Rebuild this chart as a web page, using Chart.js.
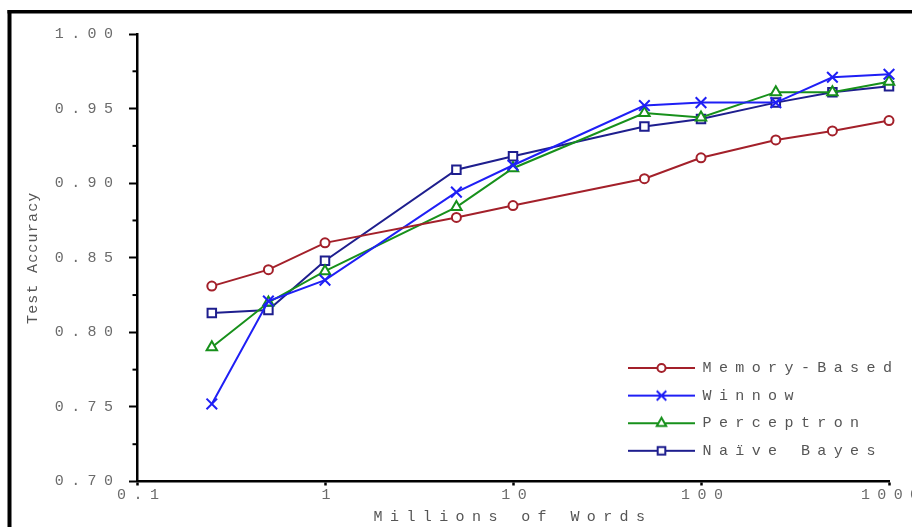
<!DOCTYPE html>
<html><head><meta charset="utf-8">
<script src="https://cdn.jsdelivr.net/npm/chart.js@4/dist/chart.umd.min.js"></script>
<style>html,body{margin:0;padding:0;background:#fff;overflow:hidden;width:912px;height:527px}canvas{display:block}</style>
</head><body><canvas id="c" width="960" height="560" style="width:960px;height:560px"></canvas>
<script>
// ---- data ----
const millionsOfWords = [0.25, 0.5, 1, 5, 10, 50, 100, 250, 500, 1000];
const memoryBased = [0.831, 0.842, 0.860, 0.877, 0.885, 0.903, 0.917, 0.929, 0.935, 0.942];
const winnow      = [0.752, 0.821, 0.835, 0.894, 0.912, 0.952, 0.954, 0.954, 0.971, 0.973];
const perceptron  = [0.790, 0.820, 0.841, 0.884, 0.910, 0.947, 0.944, 0.961, 0.961, 0.968];
const naiveBayes  = [0.813, 0.815, 0.848, 0.909, 0.918, 0.938, 0.943, 0.954, 0.961, 0.965];
const seriesNames = ['Memory-Based', 'Winnow', 'Perceptron', 'Naïve Bayes'];
const xTickValues = [0.1, 1, 10, 100, 1000];
const xTickLabels = ['0.1', '1', '10', '100', '1000'];
const yTickValues = [0.70, 0.75, 0.80, 0.85, 0.90, 0.95, 1.00];
const yTickLabels = ['0.70', '0.75', '0.80', '0.85', '0.90', '0.95', '1.00'];
const yMinorTicks = [0.725, 0.775, 0.825, 0.875, 0.925, 0.975];
const xTitle = 'Millions of Words';
const yTitle = 'Test Accuracy';

// ---- styles ----
const seriesStyles = [
  {color: '#a3202a', pointStyle: 'circle', r: 4.5},
  {color: '#1f1ff5', pointStyle: 'crossRot', r: 7.5},
  {color: '#17901b', pointStyle: 'triangle', r: 6},
  {color: '#1e1e8e', pointStyle: 'rect', r: 6}
];
const seriesValues = [memoryBased, winnow, perceptron, naiveBayes];
const H = Chart.helpers;
const LS = 7.4;

function legendIcon(st) {
  const c = document.createElement('canvas');
  c.width = 67; c.height = 18;
  const g = c.getContext('2d');
  g.strokeStyle = st.color; g.lineWidth = 2;
  g.beginPath(); g.moveTo(0, 9); g.lineTo(67, 9); g.stroke();
  g.fillStyle = '#fff'; g.strokeStyle = st.color; g.lineWidth = 2;
  H.drawPoint(g, {pointStyle: st.pointStyle, radius: st.r * 0.9, rotation: 0, borderWidth: 2}, 33.5, 9);
  return c;
}
const legendIcons = seriesStyles.map(legendIcon);

Chart.defaults.font.family = "'Liberation Mono', 'Courier New', monospace";
Chart.defaults.font.size = 15;

const AREA = {left: 137, top: 34, right: 889, bottom: 481.5};
const CW = 960, CH = 560;

const spacingPlugin = {
  id: 'spacing',
  beforeUpdate(chart) { chart.ctx.letterSpacing = LS + 'px'; },
  beforeDraw(chart) { chart.ctx.letterSpacing = LS + 'px'; },
  afterLayout(chart) {
    const l = chart.legend;
    if (l) {
      const pad = l.options.labels.padding;
      l.left = 628 - pad; l.width = 300; l.right = l.left + 300;
      l.top = 360.5 - pad; l.height = 140; l.bottom = l.top + 140;
    }
    const ys = chart.scales.y;
    if (ys && !ys._patched) {
      const orig = ys.drawTitle.bind(ys);
      ys.drawTitle = function () {
        const c = this.ctx; const p = c.letterSpacing;
        c.letterSpacing = '1.2px'; orig(); c.letterSpacing = p;
      };
      ys._patched = true;
    }
  }
};

const framePlugin = {
  id: 'frame',
  beforeDraw(chart) {
    const ctx = chart.ctx;
    ctx.save();
    ctx.fillStyle = '#000';
    ctx.fillRect(7.5, 10, 4, CH);
    ctx.fillRect(7.5, 10, CW, 3.5);
    ctx.restore();
  },
  afterDraw(chart) {
    const y = chart.scales.y, ctx = chart.ctx, x0 = chart.chartArea.left;
    ctx.save();
    ctx.strokeStyle = '#000'; ctx.lineWidth = 2;
    yMinorTicks.forEach(v => {
      const p = y.getPixelForValue(v);
      ctx.beginPath(); ctx.moveTo(x0 - 4.5, p); ctx.lineTo(x0, p); ctx.stroke();
    });
    ctx.restore();
  }
};

new Chart(document.getElementById('c'), {
  type: 'line',
  data: {
    datasets: seriesNames.map((name, i) => ({
      label: name,
      data: millionsOfWords.map((x, j) => ({x: x, y: seriesValues[i][j]})),
      borderColor: seriesStyles[i].color,
      backgroundColor: seriesStyles[i].color,
      borderWidth: 2,
      pointStyle: seriesStyles[i].pointStyle,
      pointRadius: seriesStyles[i].r,
      pointBorderWidth: 2,
      pointBackgroundColor: '#fff',
      pointBorderColor: seriesStyles[i].color,
      tension: 0,
      fill: false,
      clip: false
    }))
  },
  options: {
    responsive: false,
    animation: false,
    events: [],
    layout: {padding: {left: 0, top: AREA.top, right: CW - AREA.right, bottom: 0}},
    scales: {
      x: {
        type: 'logarithmic', min: 0.1, max: 1000, position: 'bottom',
        afterBuildTicks: s => { s.ticks = xTickValues.map(v => ({value: v})); },
        afterFit: s => { s.height = CH - AREA.bottom; },
        ticks: {
          autoSkip: false, maxRotation: 0, minRotation: 0, padding: 1, color: '#6b6b6b',
          labelOffset: LS / 2 + 1,
          callback: (v) => { const i = xTickValues.indexOf(v); return i >= 0 ? xTickLabels[i] : ''; }
        },
        grid: {display: true, drawOnChartArea: false, drawTicks: true, tickLength: 4, tickWidth: 2.5, tickColor: '#000'},
        border: {display: true, color: '#000', width: 2.5},
        title: {display: true, text: xTitle, color: '#555', padding: {top: 0, bottom: 34}}
      },
      y: {
        type: 'linear', min: 0.7, max: 1.0, position: 'left',
        afterBuildTicks: s => { s.ticks = yTickValues.map(v => ({value: v})); },
        afterFit: s => { s.width = AREA.left; },
        ticks: {
          padding: 8.6, color: '#6b6b6b',
          callback: (v) => { const i = yTickValues.findIndex(t => Math.abs(t - v) < 1e-9); return i >= 0 ? yTickLabels[i] : ''; }
        },
        grid: {display: true, drawOnChartArea: false, drawTicks: true, tickLength: 8, tickWidth: 2, tickColor: '#000'},
        border: {display: true, color: '#000', width: 2.5},
        title: {display: true, text: yTitle, color: '#555', padding: {top: 24, bottom: 0}}
      }
    },
    plugins: {
      legend: {
        display: true, position: 'chartArea', align: 'start',
        labels: {
          usePointStyle: true, pointStyleWidth: 67, boxHeight: 15, padding: 12.6, color: '#555',
          generateLabels: (chart) => chart.data.datasets.map((ds, i) => ({
            text: ds.label, pointStyle: legendIcons[i], fillStyle: '#fff', strokeStyle: ds.borderColor,
            lineWidth: 0, hidden: false, datasetIndex: i, fontColor: '#555'
          }))
        }
      },
      tooltip: {enabled: false}
    }
  },
  plugins: [spacingPlugin, framePlugin]
});
</script>
</body></html>
